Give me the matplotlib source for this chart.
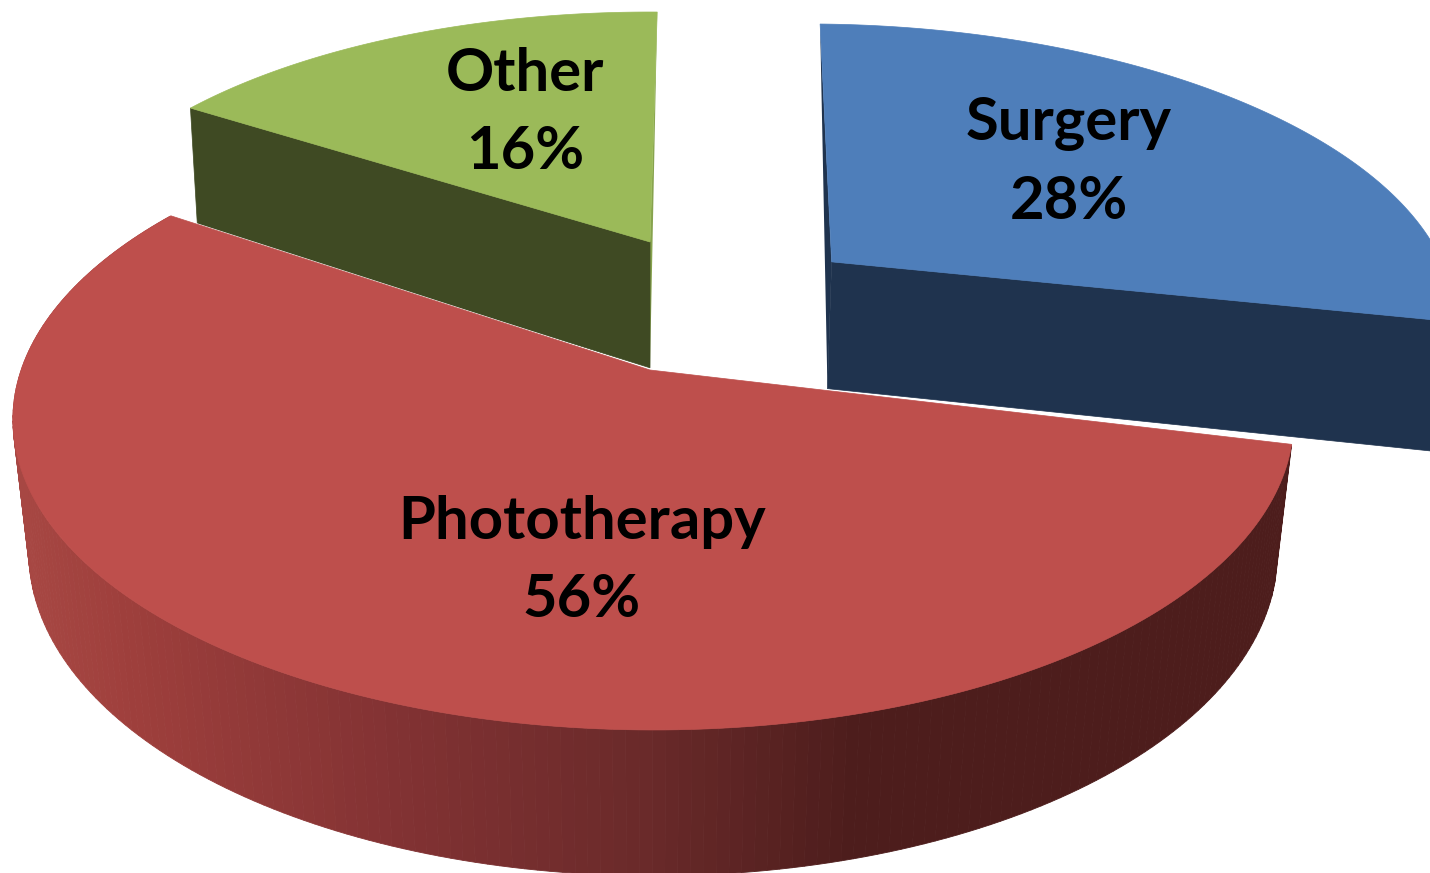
# 3D exploded pie drawn by hand: matplotlib has no perspective pie, so the
# slices go through a small projective camera and are filled as polygons.
import numpy as np
import matplotlib
matplotlib.use('Agg')
import matplotlib.pyplot as plt
from matplotlib.colors import to_rgb

# --- data ---
categories = ['Surgery', 'Phototherapy', 'Other']
percent = [28, 56, 16]

# --- styles ---
top_colors = ['#4E7EBA', '#BE4F4C', '#9BBA59']
wall_colors = ['#1F334E', '#4D1D1C', '#3F4A23']
sliver_colors = ['#1F334E', None, '#87A34E']
red_stops_x = [20, 130, 400, 650, 860, 1300]
red_stops_c = ['#A74743', '#9E3F3C', '#823233', '#6A2A2A', '#4D1D1C', '#4D1D1C']

# --- camera and per slice layout (pixels / model units) ---
APEX_X, APEX_Y = 650, 370
A, B, C, K, M = 632, 302, 135, 0.161, 0.025
START_DEG = 2.0
offsets = [(0.305, -0.38), (0.0, 0.0), (0.0, -0.455)]
arc_dx = [0.0, 0.005, 0.0]
radius = [1.025, 1.0, 1.01]
angle_trim = [(-0.6, -0.6), (0.9, -0.6), (-1.2, -1.2)]
wall_m = [0.0, M, 0.018]
label_xy = [(1069, 163), (582, 561), (525, 113)]


def project(X, Y, z, m=M):
    w = 1 - K * Y + m * z
    return APEX_X + A * X / w, APEX_Y + (B * Y + C * z) / w


def rim(angle_deg, i):
    # model coordinates of a point on the rim of slice i
    t = np.radians(angle_deg)
    return (radius[i] * np.sin(t) + offsets[i][0] + arc_dx[i],
            -radius[i] * np.cos(t) + offsets[i][1])


def red_shade(x):
    rgb = np.array([to_rgb(c) for c in red_stops_c])
    return [np.interp(x, red_stops_x, rgb[:, k]) for k in range(3)]


fig = plt.figure(figsize=(14.3, 8.73), dpi=100)
ax = fig.add_axes([0, 0, 1, 1])
ax.set_xlim(0, 1430)
ax.set_ylim(873, 0)
ax.axis('off')

edges = START_DEG + np.cumsum([0] + percent) * 3.6
draw_order = [2, 0, 1]  # back slices first, phototherapy on top

for i in draw_order:
    a0, a1 = edges[i] + angle_trim[i][0], edges[i + 1] + angle_trim[i][1]
    angles = np.linspace(a0, a1, 200)
    off = offsets[i]
    tx, ty = project(*rim(angles, i), 0)
    top_x, top_y = project(off[0], off[1], 0)   # apex on top face
    low_x, low_y = project(off[0], off[1], 1)   # apex on bottom face

    if i == 1:
        # outer wall with the horizontal gradient, strip by strip
        bx, by = project(*rim(angles, i), 1)
        for j in range(len(tx) - 1):
            ax.fill([tx[j], tx[j + 1], bx[j + 1], bx[j]],
                    [ty[j], ty[j + 1], by[j + 1], by[j]],
                    color=red_shade(tx[j]), lw=0.6, zorder=3)
    else:
        # cut face towards the viewer, and the thin far cut seen edge on
        near, far = (-1, 0) if i == 0 else (0, -1)
        dx, dy = project(*rim(angles[near], i), 1, wall_m[i])
        ax.fill([tx[far], top_x, low_x], [ty[far], top_y, low_y],
                color=sliver_colors[i], lw=0, zorder=1)
        ax.fill([top_x, tx[near], dx, low_x], [top_y, ty[near], dy, low_y],
                color=wall_colors[i], lw=0.5, zorder=1)

    # top face
    z_top = 4 if i == 1 else 2
    ax.fill(np.r_[top_x, tx], np.r_[top_y, ty], color=top_colors[i], lw=0.5, zorder=z_top)

    if i == 1:
        # white seam along the two cut edges of the big slice
        ax.plot([tx[-1], top_x, tx[0]], [ty[-1], top_y, ty[0]], color='white',
                lw=1.3, solid_joinstyle='miter', zorder=3.5)

for name, value, (lx, ly) in zip(categories, percent, label_xy):
    ax.text(lx, ly, f'{name}\n{value}%', ha='center', va='center', color='black',
            family='Lato', fontweight='bold', fontsize=43, linespacing=1.53, zorder=6)

fig.savefig('out.png', dpi=100, facecolor='white')
